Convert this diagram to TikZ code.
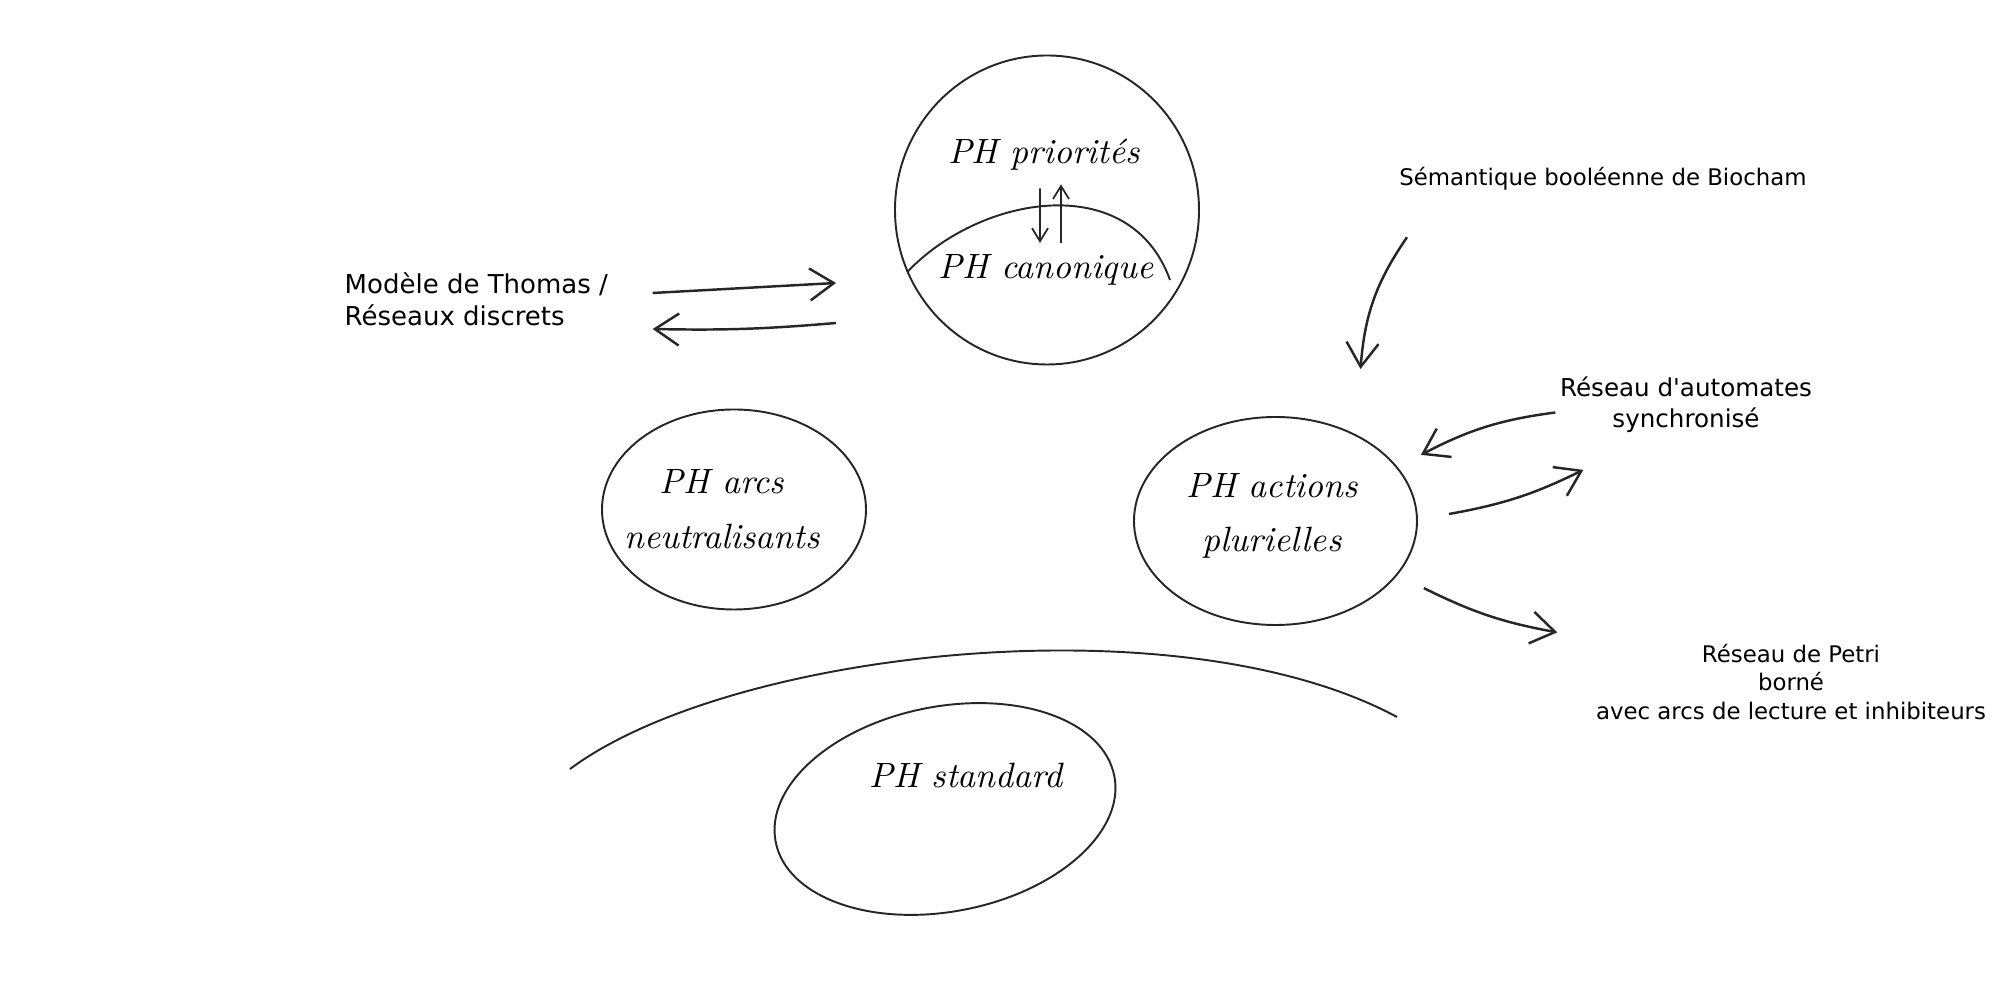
\documentclass[tikz,border=0pt]{standalone}
\usepackage{fontspec}
\newfontfamily\labelfont{DejaVu Sans}
\usepackage{tikz}
\usetikzlibrary{arrows.meta,positioning,shapes,calc}

\begin{document}
\begin{tikzpicture}[
    blob/.style={ellipse, draw=black!85, line width=0.55pt, inner sep=0pt},
    hand/.style={font=\fontsize{10}{15.5}\selectfont\itshape, align=center, inner sep=0pt},
    lbl/.style={font=\labelfont\fontsize{6.5}{8}\selectfont, align=center, inner sep=0pt},
    arrow/.style={-{Straight Barb[length=2.4mm,width=3.2mm]}, line width=0.7pt, black!85},
    tiny arrow/.style={-{Straight Barb[length=1.3mm,width=1.6mm]}, line width=0.5pt, black!85}
]
\useasboundingbox (0,0) rectangle (20,-10);

\node[blob, minimum width=3.04cm, minimum height=3.09cm] (prio) at (10.47,-2.10) {};
\node[hand] (priotxt) at (10.44,-1.55) {PH priorités};
\node[hand] (canotxt) at (10.46,-2.70) {PH canonique};
\draw[line width=0.55pt, black!85] (prio.204) .. controls (9.8,-1.95) and (11.3,-1.69) .. (11.70,-2.80);
\draw[tiny arrow, shorten <=0.17cm, shorten >=0.11cm] ([xshift=-0.04cm]priotxt.south) -- ([xshift=-0.06cm]canotxt.north);
\draw[tiny arrow, shorten <=0.11cm, shorten >=0.13cm] ([xshift=0.15cm]canotxt.north) -- ([xshift=0.17cm]priotxt.south);

\node[lbl, font=\labelfont\fontsize{7.4}{9.1}\selectfont, align=left, anchor=west] (thomas) at (3.44,-2.99) {Modèle de Thomas /\\Réseaux discrets};
\draw[arrow] ([shift={(0.44,0.06)}]thomas.east) -- ([shift={(-0.58,-0.73)}]prio.west);
\draw[arrow] ([shift={(-0.58,-1.13)}]prio.west) to[bend left=3] ([shift={(0.44,-0.30)}]thomas.east);

\node[blob, minimum width=2.64cm, minimum height=2.0cm] (neutr) at (7.34,-5.095) {};
\node[hand] (neutrtxt) at (7.22,-5.09) {PH arcs\\neutralisants};
\node[blob, minimum width=2.83cm, minimum height=2.08cm] (plur) at (12.755,-5.21) {};
\node[hand] (plurtxt) at (12.72,-5.16) {PH actions\\plurielles};

\node[lbl] (biocham) at (16.03,-1.79) {Sémantique booléenne de Biocham};
\draw[arrow] ([shift={(-1.96,-0.46)}]biocham.south) to[bend right=15] ([shift={(0.85,0.47)}]plur.north);

\node[lbl, font=\labelfont\fontsize{7}{8.7}\selectfont] (automates) at (16.86,-4.045) {Réseau d'automates\\synchronisé};
\draw[arrow] ([shift={(-0.04,-0.08)}]automates.west) to[bend right=10] ([shift={(0.25,0.10)}]plur.25);
\draw[arrow] ([shift={(0.31,0.07)}]plur.east) to[bend right=8] ([shift={(0.24,-0.37)}]automates.south west);

\node[lbl] (petri) at (17.91,-6.82) {Réseau de Petri\\borné\\avec arcs de lecture et inhibiteurs};
\draw[arrow] ([shift={(0.28,-0.11)}]plur.-25) to[bend right=8] ([shift={(-0.38,0.115)}]petri.north west);

\draw[line width=0.55pt, black!85] (5.70,-7.69) .. controls (7.3,-6.5) and (11.8,-6.0) .. (13.97,-7.17);
\node[blob, minimum width=3.45cm, minimum height=2.05cm, rotate=11] (std) at (9.45,-8.09) {};
\node[hand] (stdtxt) at (9.66,-7.76) {PH standard};
\end{tikzpicture}
\end{document}
